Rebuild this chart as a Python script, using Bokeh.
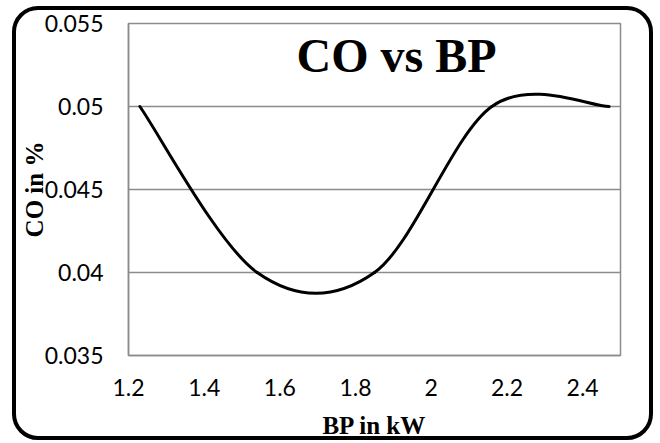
from bokeh.plotting import figure
from bokeh.models import Label, FixedTicker, ColumnDataSource, Range1d, InlineStyleSheet
from bokeh.embed import file_html
from bokeh.resources import INLINE

# ---- data ----
bp = [1.23, 1.54, 1.85, 2.16, 2.47]          # BP in kW
co = [0.05, 0.04, 0.04, 0.05, 0.05]          # CO in %
x_ticks = [1.2, 1.4, 1.6, 1.8, 2.0, 2.2, 2.4]
x_tick_labels = ["1.2", "1.4", "1.6", "1.8", "2", "2.2", "2.4"]
y_ticks = [0.035, 0.04, 0.045, 0.05, 0.055]
y_tick_labels = ["0.035", "0.04", "0.045", "0.05", "0.055"]
title_text = "CO vs BP"
x_title = "BP in kW"
y_title = "CO in %"

# Excel-style smoothed line: one cubic Bezier per pair of points,
# control points taken from neighbouring data points
n = len(bp)
seg = dict(x0=[], y0=[], x1=[], y1=[], cx0=[], cy0=[], cx1=[], cy1=[])
for i in range(n - 1):
    pm = i - 1 if i > 0 else i
    pp = i + 2 if i + 2 < n else i + 1
    seg["x0"].append(bp[i]); seg["y0"].append(co[i])
    seg["x1"].append(bp[i + 1]); seg["y1"].append(co[i + 1])
    seg["cx0"].append(bp[i] + (bp[i + 1] - bp[pm]) / 6)
    seg["cy0"].append(co[i] + (co[i + 1] - co[pm]) / 6)
    seg["cx1"].append(bp[i + 1] - (bp[pp] - bp[i]) / 6)
    seg["cy1"].append(co[i + 1] - (co[pp] - co[i]) / 6)
src = ColumnDataSource(seg)

GRID = "#8c8c8c"

p = figure(width=660, height=443,
           x_range=Range1d(1.2, 2.5), y_range=Range1d(0.035, 0.055),
           output_backend="svg", toolbar_location=None,
           min_border_left=128, min_border_right=40,
           min_border_top=23, min_border_bottom=88)

p.background_fill_color = "white"
p.border_fill_color = "white"
p.outline_line_color = GRID
p.outline_line_width = 1.5

p.xgrid.visible = False
p.ygrid.grid_line_color = GRID
p.ygrid.grid_line_width = 1.5

for ax in (p.xaxis[0], p.yaxis[0]):
    ax.axis_line_color = GRID
    ax.axis_line_width = 1.5
    ax.major_tick_line_color = None
    ax.minor_tick_line_color = None
    ax.major_tick_in = 0
    ax.major_tick_out = 0
    ax.major_label_text_font = "Lato"
    ax.major_label_text_font_size = "23px"
    ax.major_label_text_color = "black"
    ax.axis_label_text_font = "Liberation Serif"
    ax.axis_label_text_font_style = "bold"
    ax.axis_label_text_font_size = "25px"
    ax.axis_label_text_color = "black"

p.xaxis.ticker = FixedTicker(ticks=x_ticks)
p.xaxis.major_label_overrides = dict(zip(x_ticks, x_tick_labels))
p.xaxis.major_label_standoff = 23
p.xaxis.axis_label = x_title
p.xaxis.axis_label_standoff = 13

p.yaxis.ticker = FixedTicker(ticks=y_ticks)
p.yaxis.major_label_standoff = 25
p.yaxis.major_label_overrides = dict(zip(y_ticks, y_tick_labels))
p.yaxis.axis_label = y_title
p.yaxis.axis_label_standoff = -6

p.bezier(x0="x0", y0="y0", x1="x1", y1="y1", cx0="cx0", cy0="cy0",
         cx1="cx1", cy1="cy1", source=src, line_color="black",
         line_width=3, line_cap="round")

p.add_layout(Label(x=1.644, y=0.05307, text=title_text,
                   text_font="Liberation Serif", text_font_style="bold",
                   text_font_size="48px", text_color="black",
                   text_baseline="alphabetic"))

# rounded chart border drawn over the whole canvas
p.stylesheets = [InlineStyleSheet(css="""
:host { position: relative; }
:host::after {
  content: "";
  position: absolute;
  left: 12px; top: 6px;
  width: 641px; height: 434px;
  box-sizing: border-box;
  border: 4px solid black;
  border-radius: 26px;
  pointer-events: none;
}
""")]

open("out.html", "w").write(file_html(p, INLINE))
